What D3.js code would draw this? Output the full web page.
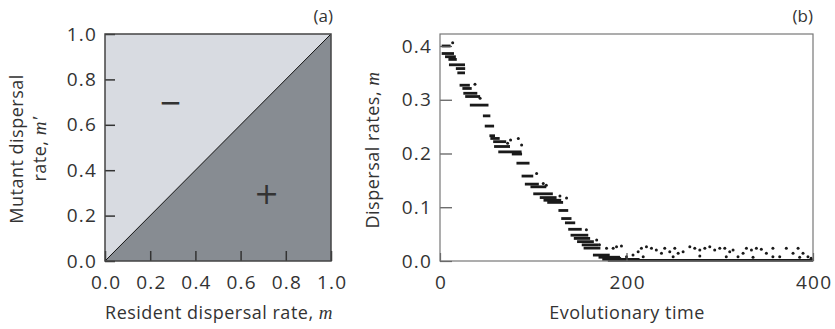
<!DOCTYPE html>
<html><head><meta charset="utf-8">
<script src="https://cdn.jsdelivr.net/npm/d3@7"></script>
<style>
body{margin:0;background:#fff;}
text{font-family:"Open Sans",sans-serif;fill:#333;}
.it{font-family:"Liberation Serif","DejaVu Serif",serif;font-style:italic;}
</style></head>
<body><svg id="c" width="835" height="329"></svg>
<script>
// ---------- data ----------
const leftTicks = [0.0, 0.2, 0.4, 0.6, 0.8, 1.0];
const rightYTicks = [0.0, 0.1, 0.2, 0.3, 0.4];
const rightXTicks = [0, 200, 400];
// horizontal runs of dispersal values: [tStart, tEnd, m]
const runs = [
  [1.8,11.4,0.400],[1.8,15,0.386],[5.4,17,0.380],[9,18,0.375],
  [9.6,26.8,0.365],[17,27,0.358],[18.6,26.8,0.350],
  [21,32,0.327],[24,34,0.321],[25,40,0.312],[27,43,0.306],
  [32,52,0.290],[46,54,0.270],[48,58,0.251],
  [53,59,0.233],[54,64,0.228],[57,71,0.222],[58,75,0.213],
  [62.5,87.5,0.203],[77,88,0.199],[82,96,0.182],
  [87.5,100,0.158],[91,106,0.143],[97,114,0.138],
  [100,121,0.125],[107,125,0.118],[111,130,0.113],[115,132,0.109],
  [127,137.5,0.094],[130,141,0.079],[134,145,0.071],[137.5,152,0.059],
  [140,159,0.048],[143.5,161,0.042],[147,165,0.036],[152,170,0.030],
  [154,172,0.024],[164,182,0.011],[170,193,0.007],[174,214,0.003],
  [180,400,0.001]
];
// isolated mutant points: [t, m]
const points = [
  [13.6,0.406],[37.5,0.329],[43,0.303],[72.5,0.219],[75.7,0.225],
  [84,0.228],[87.5,0.216],[103.6,0.163],[110.7,0.144],[114,0.141],
  [128.6,0.121],[135.7,0.117],[157,0.058],[168,0.039],[171,0.030],
  [178.6,0.0236],[185.7,0.0236],[189.3,0.0267],[194.6,0.0279],[200,0.0081],
  [207,0.0112],[212.5,0.0174],[216,0.0236],[221.4,0.0267],[226.8,0.0236],
  [232,0.0205],[237.5,0.0143],[241,0.0236],[246.4,0.0174],[251.8,0.0236],
  [255.4,0.0143],[260.7,0.0174],[267.9,0.0267],[273.2,0.0236],[278.6,0.0205],
  [284,0.0236],[289.3,0.0267],[294.6,0.0205],[300,0.0236],[305.4,0.0236],
  [310.7,0.0174],[314.3,0.0205],[319.6,0.0081],[325,0.0143],[328.6,0.0236],
  [334,0.0205],[339.3,0.0236],[344.6,0.0217],[350,0.0143],[357,0.0236],
  [364.3,0.0081],[371.4,0.0236],[378.6,0.0143],[384,0.0236],[389.3,0.0143],
  [394.6,0.0081],[398,0.005],
  [192.9,0.005],[217.9,0.008],[250,0.008],[278.6,0.0093],[307,0.008],
  [335.7,0.0068],[357,0.008],[385.7,0.0068]
];

const svg = d3.select("#c");
const fmt = d3.format(".1f");
const TICKFS = "19px", TICKLS = "1.2px", TITLEFS = "18px", TITLELS = "0.5px";

// ---------- panel (a) ----------
const xa = d3.scaleLinear().domain([0,1]).range([105,331]);
const ya = d3.scaleLinear().domain([0,1]).range([261,34]);
const gA = svg.append("g");
gA.append("path").attr("fill","#d8dbe1")
  .attr("d", d3.line()([[xa(0),ya(0)],[xa(0),ya(1)],[xa(1),ya(1)]]) + "Z");
gA.append("path").attr("fill","#878c92")
  .attr("d", d3.line()([[xa(0),ya(0)],[xa(1),ya(0)],[xa(1),ya(1)]]) + "Z");
gA.append("line").attr("x1",xa(0)).attr("y1",ya(0)).attr("x2",xa(1)).attr("y2",ya(1))
  .attr("stroke","#111").attr("stroke-width",1);

const axA_x = gA.append("g").attr("transform",`translate(0,${ya(0)})`)
  .call(d3.axisBottom(xa).tickValues(leftTicks).tickFormat(fmt).tickSize(-10).tickPadding(15));
const axA_y = gA.append("g").attr("transform",`translate(${xa(0)},0)`)
  .call(d3.axisLeft(ya).tickValues(leftTicks).tickFormat(fmt).tickSize(-10).tickPadding(8));
[axA_x, axA_y].forEach(a=>{
  a.select(".domain").remove();
  a.selectAll(".tick line").attr("stroke","#333").attr("stroke-width",1.5);
  a.selectAll(".tick text").style("font-size",TICKFS).style("letter-spacing",TICKLS).attr("fill","#333");
});
axA_x.selectAll(".tick text").attr("dx","0.6px");
gA.append("rect").attr("x",xa(0)).attr("y",ya(1)).attr("width",xa(1)-xa(0)).attr("height",ya(0)-ya(1))
  .attr("fill","none").attr("stroke","#444").attr("stroke-width",1.5);
gA.append("text").attr("x",xa(0.29)).attr("y",ya(0.70)).attr("text-anchor","middle").attr("dy","0.35em")
  .style("font-size","28px").style("font-family","DejaVu Sans").text("−");
gA.append("text").attr("x",xa(0.715)).attr("y",ya(0.30)).attr("text-anchor","middle").attr("dy","0.36em")
  .style("font-size","30px").style("font-family","DejaVu Sans").attr("fill","#222").text("+");
gA.append("text").attr("x",333).attr("y",22).attr("text-anchor","end").style("font-size","17px").text("(a)");
const tA = gA.append("text").attr("x",219).attr("y",319).attr("text-anchor","middle")
  .style("font-size",TITLEFS).style("letter-spacing",TITLELS);
tA.append("tspan").text("Resident dispersal rate, ");
tA.append("tspan").attr("class","it").style("font-size","19px").text("m");
const yA = gA.append("g").attr("transform","translate(0,149) rotate(-90)");
yA.append("text").attr("x",0).attr("y",23).attr("text-anchor","middle")
  .style("font-size",TITLEFS).style("letter-spacing",TITLELS).text("Mutant dispersal");
const yA2 = yA.append("text").attr("x",0).attr("y",46).attr("text-anchor","middle")
  .style("font-size",TITLEFS).style("letter-spacing",TITLELS);
yA2.append("tspan").text("rate, ");
yA2.append("tspan").attr("class","it").style("font-size","19px").text("m′");

// ---------- panel (b) ----------
const xb = d3.scaleLinear().domain([0,400]).range([440,813]);
const yb = d3.scaleLinear().domain([0,0.4223]).range([261,34]);
const gB = svg.append("g");
gB.append("g").selectAll("line").data(runs).join("line")
  .attr("x1",d=>xb(d[0])).attr("x2",d=>xb(d[1]))
  .attr("y1",d=>yb(d[2])).attr("y2",d=>yb(d[2]))
  .attr("stroke","#1a1a1a").attr("stroke-width",2.8);
gB.append("g").selectAll("circle").data(points).join("circle")
  .attr("cx",d=>xb(d[0])).attr("cy",d=>yb(d[1])).attr("r",1.5).attr("fill","#1a1a1a");

const axB_x = gB.append("g").attr("transform",`translate(0,${yb(0)})`)
  .call(d3.axisBottom(xb).tickValues(rightXTicks).tickFormat(d3.format("d")).tickSize(-8).tickPadding(15));
const axB_y = gB.append("g").attr("transform",`translate(${xb(0)},0)`)
  .call(d3.axisLeft(yb).tickValues(rightYTicks).tickFormat(fmt).tickSize(-12).tickPadding(8));
[axB_x, axB_y].forEach(a=>{
  a.select(".domain").remove();
  a.selectAll(".tick line").attr("stroke","#555").attr("stroke-width",1.2);
  a.selectAll(".tick text").style("font-size",TICKFS).style("letter-spacing",TICKLS).attr("fill","#333");
});
axB_x.selectAll(".tick text").attr("dx","0.6px");
gB.append("rect").attr("x",xb(0)).attr("y",yb.range()[1]).attr("width",xb(400)-xb(0)).attr("height",yb(0)-yb.range()[1])
  .attr("fill","none").attr("stroke","#777").attr("stroke-width",1.2);
gB.append("text").attr("x",813).attr("y",22).attr("text-anchor","end").style("font-size","17px").text("(b)");
gB.append("text").attr("x",627).attr("y",319).attr("text-anchor","middle")
  .style("font-size",TITLEFS).style("letter-spacing",TITLELS).text("Evolutionary time");
const yB = gB.append("text").attr("transform","translate(379,150) rotate(-90)").attr("text-anchor","middle")
  .style("font-size",TITLEFS).style("letter-spacing",TITLELS);
yB.append("tspan").text("Dispersal rates, ");
yB.append("tspan").attr("class","it").style("font-size","19px").text("m");
</script></body></html>
